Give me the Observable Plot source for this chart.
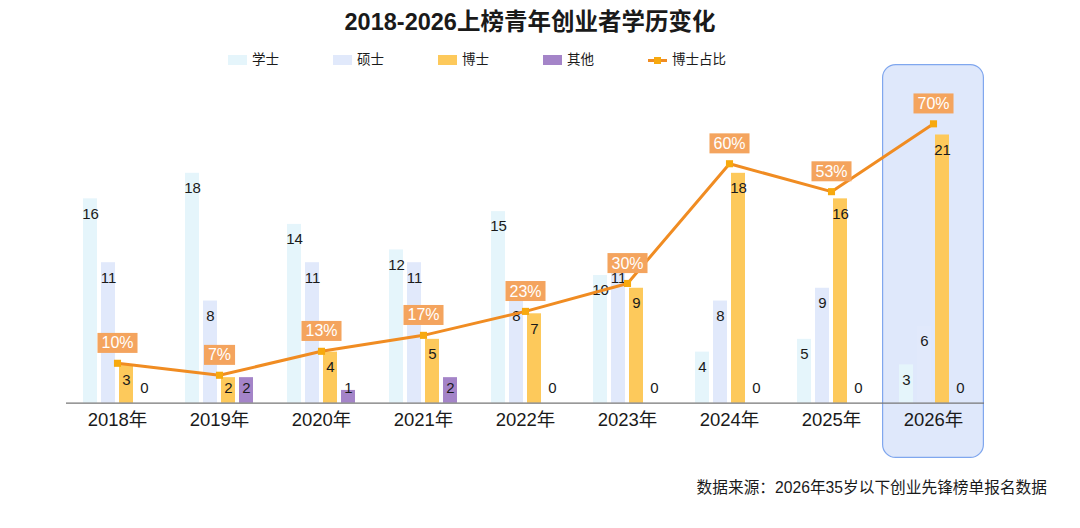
<!DOCTYPE html>
<html>
<head>
<meta charset="utf-8">
<script src="https://cdn.jsdelivr.net/npm/d3@7"></script>
<script src="https://cdn.jsdelivr.net/npm/@observablehq/plot@0.6"></script>
<style>
  body { margin: 0; background: #fff; }
  #wrap { position: relative; width: 1080px; height: 528px; overflow: hidden;
          font-family: "Liberation Sans", "Noto Sans CJK SC", sans-serif; color: #1a1a1a; }
  #chart svg { position: absolute; left: 0; top: 0; }
  #title { position: absolute; top: 8px; left: 0; width: 1060px; text-align: center;
           font-size: 23.5px; font-weight: bold; line-height: 28px; }
  #legend { position: absolute; top: 51px; left: 228px; display: flex; font-size: 13.5px; line-height: 18px; z-index: 2; }
  .item { display: flex; align-items: center; width: 105px; flex: none; }
  .sw { width: 19px; height: 10px; margin-right: 5px; flex: none; }
  .lsw { position: relative; width: 19px; height: 10px; margin-right: 5px; flex: none; }
  .lsw::before { content: ""; position: absolute; left: 0; right: 0; top: 4px; height: 3px; background: #f08c22; }
  .lsw::after { content: ""; position: absolute; left: 6px; top: 2px; width: 7px; height: 7px; background: #f7a90e; }
  #caption { position: absolute; top: 478px; right: 33px; font-size: 15.7px; line-height: 20px; }
</style>
</head>
<body>
<div id="wrap">
  <div id="chart"></div>
  <div id="title">2018-2026上榜青年创业者学历变化</div>
  <div id="legend"></div>
  <div id="caption">数据来源：2026年35岁以下创业先锋榜单报名数据</div>
</div>
<script>
// Founders on the list each year, by highest degree
const years = ["2018年", "2019年", "2020年", "2021年", "2022年", "2023年", "2024年", "2025年", "2026年"];
const degrees = ["学士", "硕士", "博士", "其他"];
const bachelor = [16, 18, 14, 12, 15, 10, 4, 5, 3];
const master   = [11, 8, 11, 11, 8, 11, 8, 9, 6];
const doctor   = [3, 2, 4, 5, 7, 9, 18, 16, 21];
const other    = [0, 2, 1, 2, 0, 0, 0, 0, 0];
// Share of PhDs, in percent
const doctorShare = [10, 7, 13, 17, 23, 30, 60, 53, 70];
const shareName = "博士占比";
const highlightYear = "2026年";

const degreeColors = ["#e5f5fb", "#e1e9fb", "#fdc95b", "#a484c8"];
const lineColor = "#f08c22";
const markerColor = "#f7a90e";
const shareLabelColor = "#f4a45e";

// Shared vertical scale: bar counts, with the share line drawn so that 100% = PCT_SPAN counts
const Y_DOMAIN = [-4.33, 26.52];
const PCT_SPAN = 31.25;
const LABEL_FLOOR = 2.35;

const FONT = '"Liberation Sans", "Noto Sans CJK SC", sans-serif';
const W = 1080, H = 470;
const margins = {marginTop: 64, marginBottom: 12, marginLeft: 66, marginRight: 96};

const series = [bachelor, master, doctor, other];
const barData = years.flatMap((year, i) =>
  degrees.map((degree, j) => ({year, degree, value: series[j][i]})));
const shareData = years.map((year, i) => ({year, share: doctorShare[i]}));

// Legend
const legend = document.getElementById("legend");
degrees.forEach((d, i) => {
  const item = document.createElement("div");
  item.className = "item";
  item.innerHTML = `<span class="sw" style="background:${degreeColors[i]}"></span><span>${d}</span>`;
  legend.appendChild(item);
});
const lineItem = document.createElement("div");
lineItem.className = "item";
lineItem.innerHTML = `<span class="lsw"></span><span>${shareName}</span>`;
legend.appendChild(lineItem);

// Bars, counts and year labels, one facet per year
const bars = Plot.plot({
  width: W, height: H, ...margins,
  style: {fontFamily: FONT, background: "transparent", overflow: "visible"},
  fx: {domain: years, padding: 0, axis: null},
  x: {domain: degrees, paddingInner: 0.22, paddingOuter: 0.88, axis: null},
  y: {domain: Y_DOMAIN, axis: null},
  color: {domain: degrees, range: degreeColors},
  marks: [
    Plot.rect([highlightYear], {fx: d => d, fill: "#dfe8fb", stroke: "#80a7ee", strokeWidth: 1.2, rx: 13, inset: 0.6}),
    Plot.barY(barData, {fx: "year", x: "degree", y: "value", fill: "degree"}),
    Plot.ruleY([0], {stroke: "#777", strokeWidth: 1.2}),
    Plot.text(barData, {
      fx: "year", x: "degree", y: d => Math.max(d.value, LABEL_FLOOR), dy: 15,
      text: d => String(d.value), fontSize: 15, fill: "#1a1a1a"
    }),
    Plot.text(years, {fx: d => d, text: d => d, frameAnchor: "bottom", dy: -33, fontSize: 18.5, fill: "#1a1a1a"})
  ]
});

// Share line drawn over the bars on the same frame
const line = Plot.plot({
  width: W, height: H, ...margins,
  style: {fontFamily: FONT, background: "transparent", overflow: "visible"},
  x: {type: "point", domain: years, padding: 0.5, axis: null},
  y: {domain: Y_DOMAIN, axis: null},
  marks: [
    Plot.line(shareData, {x: "year", y: d => d.share * PCT_SPAN / 100, stroke: lineColor, strokeWidth: 3}),
    Plot.dot(shareData, {x: "year", y: d => d.share * PCT_SPAN / 100, symbol: "square", r: 4, fill: markerColor}),
    Plot.text(shareData, {
      x: "year", y: d => d.share * PCT_SPAN / 100, dy: -20,
      text: d => d.share + "%", fill: "white", fontSize: 16
    })
  ]
});

const chart = document.getElementById("chart");
chart.appendChild(bars);
chart.appendChild(line);

// Filled tag behind each share label (the only texts in the line layer)
line.querySelectorAll("text").forEach(t => {
  const bb = t.getBBox();
  const r = document.createElementNS("http://www.w3.org/2000/svg", "rect");
  const h = 20;
  r.setAttribute("x", bb.x - 4);
  r.setAttribute("width", bb.width + 8);
  r.setAttribute("y", bb.y + (bb.height - h) / 2);
  r.setAttribute("height", h);
  r.setAttribute("fill", shareLabelColor);
  if (t.getAttribute("transform")) r.setAttribute("transform", t.getAttribute("transform"));
  t.parentNode.insertBefore(r, t);
});
</script>
</body>
</html>
